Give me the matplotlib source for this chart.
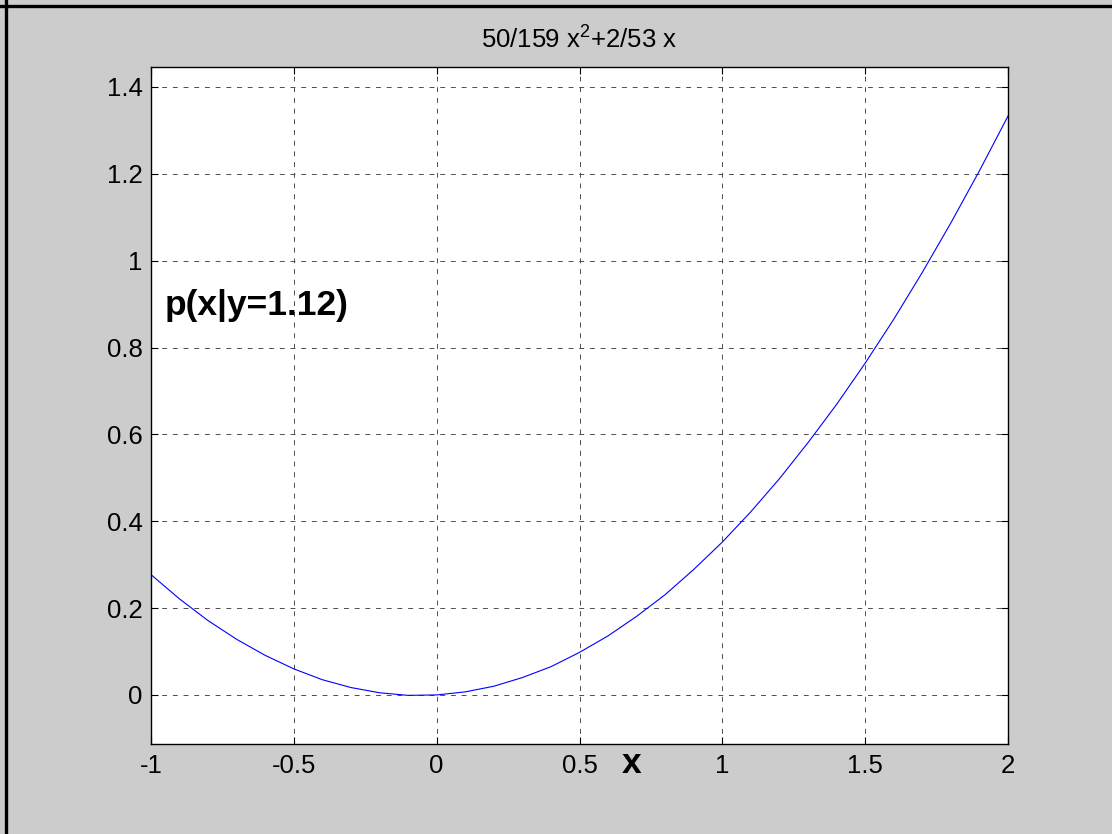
import matplotlib
matplotlib.use('Agg')
import matplotlib.pyplot as plt
from matplotlib.lines import Line2D

# Curve values (x step 0.1)
x_vals = [-1.0, -0.9, -0.8, -0.7, -0.6, -0.5, -0.4, -0.3, -0.2, -0.1, 0.0,
          0.1, 0.2, 0.3, 0.4, 0.5, 0.6, 0.7, 0.8, 0.9, 1.0,
          1.1, 1.2, 1.3, 1.4, 1.5, 1.6, 1.7, 1.8, 1.9, 2.0]
y_vals = [0.277, 0.221, 0.171, 0.128, 0.091, 0.060, 0.035, 0.017, 0.005, -0.001, 0.0,
          0.007, 0.020, 0.040, 0.065, 0.098, 0.136, 0.181, 0.231, 0.289, 0.352,
          0.422, 0.498, 0.581, 0.669, 0.764, 0.865, 0.973, 1.087, 1.207, 1.333]

x_ticks = [-1, -0.5, 0, 0.5, 1, 1.5, 2]
x_ticklabels = ['-1', '-0.5', '0', '0.5', '1', '1.5', '2']
y_ticks = [0, 0.2, 0.4, 0.6, 0.8, 1.0, 1.2, 1.4]
y_ticklabels = ['0', '0.2', '0.4', '0.6', '0.8', '1', '1.2', '1.4']

title_text = r'50/159 x$^{\mathregular{2}}$+2/53 x'
note_text = 'p(x|y=1.12)'

plt.rcParams['font.family'] = ['Liberation Sans', 'DejaVu Sans']
plt.rcParams['mathtext.fontset'] = 'custom'
plt.rcParams['mathtext.rm'] = 'Liberation Sans'
plt.rcParams['axes.unicode_minus'] = False

fig = plt.figure(figsize=(11.12, 8.34), dpi=100, facecolor='#cccccc')
ax = fig.add_axes([151 / 1112, 1 - 744 / 834, 857 / 1112, 677 / 834])
ax.set_facecolor('white')

ax.plot(x_vals, y_vals, color='#0000ff', linewidth=0.8)

ax.set_xlim(-1, 2)
ax.set_ylim(-0.113, 1.446)
ax.set_xticks(x_ticks)
ax.set_xticklabels(x_ticklabels)
ax.set_yticks(y_ticks)
ax.set_yticklabels(y_ticklabels)
ax.tick_params(direction='in', length=5, width=0.8, top=True, right=True,
               labelsize=18.5, colors='black')
ax.tick_params(axis='x', pad=7.5)
ax.tick_params(axis='y', pad=6)
ax.grid(True, color='0.3', linestyle=(0, (5, 6)), linewidth=0.7)
for sp in ax.spines.values():
    sp.set_linewidth(1.0)
    sp.set_color('black')

ax.set_title(title_text, fontsize=18.5, pad=14)

# annotation and x label (MATLAB-style placement)
ax.text(-0.953, 0.875, note_text, fontsize=25.5, fontweight='bold', ha='left', va='baseline')
fig.text(631.5 / 1112, 1 - 773 / 834, 'x', fontsize=25.5, fontweight='bold',
         ha='center', va='baseline')

# window frame lines (top and left)
fig.add_artist(Line2D([0, 1], [1 - 5.5 / 834, 1 - 5.5 / 834], color='black', linewidth=2.4,
                      transform=fig.transFigure))
fig.add_artist(Line2D([5.5 / 1112, 5.5 / 1112], [0, 1], color='black', linewidth=2.4,
                      transform=fig.transFigure))

fig.savefig('out.png', dpi=100, facecolor=fig.get_facecolor())
